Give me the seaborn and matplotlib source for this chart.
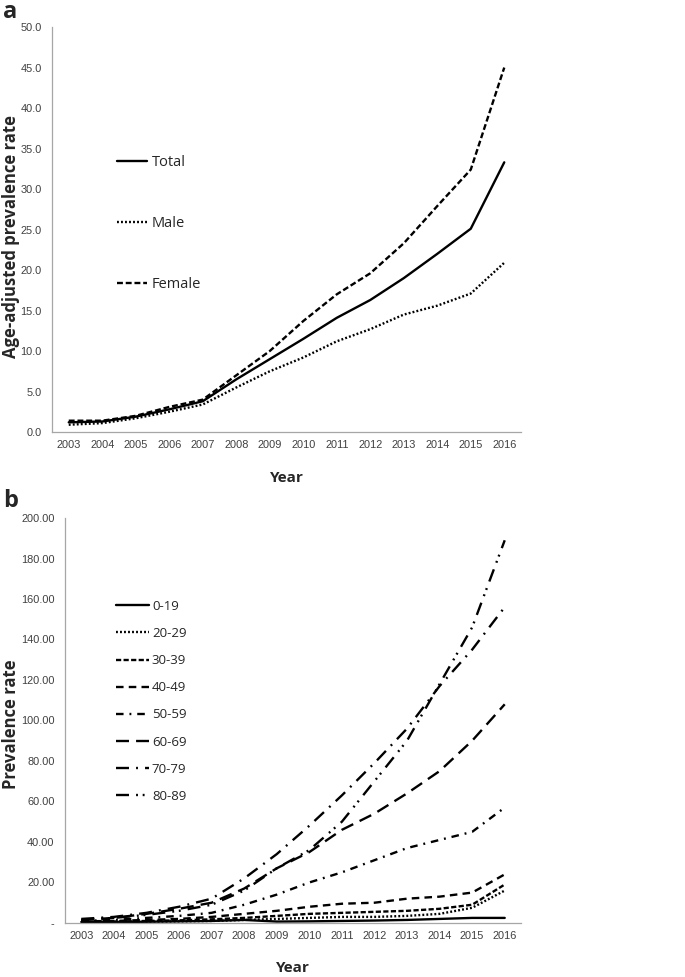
import matplotlib
matplotlib.use("Agg")
import matplotlib.pyplot as plt
from matplotlib.ticker import FixedLocator, FuncFormatter
import seaborn as sns
import pandas as pd
import numpy as np

years = ["2003", "2004", "2005", "2006", "2007", "2008", "2009",
         "2010", "2011", "2012", "2013", "2014", "2015", "2016"]

# Panel a: age-adjusted prevalence rate
total = [1.2, 1.3, 1.9, 2.8, 3.8, 6.5, 9.0, 11.5, 14.1, 16.3, 19.0, 22.0, 25.1, 33.3]
male = [0.9, 1.1, 1.7, 2.5, 3.4, 5.5, 7.5, 9.2, 11.2, 12.7, 14.5, 15.6, 17.1, 20.9]
female = [1.4, 1.4, 2.0, 3.1, 4.0, 7.0, 10.0, 13.7, 17.0, 19.6, 23.3, 27.9, 32.4, 45.0]
sex_labels = ["Total", "Male", "Female"]

# Panel b: prevalence rate by age group
age_labels = ["0-19", "20-29", "30-39", "40-49", "50-59", "60-69", "70-79", "80-89"]
age_0_19 = [0.5, 0.5, 0.6, 0.8, 1.0, 1.5, 0.7, 0.8, 1.0, 1.2, 1.5, 2.0, 2.5, 2.5]
age_20_29 = [0.3, 0.4, 0.6, 0.8, 1.0, 1.5, 2.0, 2.5, 3.0, 3.0, 3.5, 4.5, 7.5, 16.0]
age_30_39 = [0.5, 0.7, 1.0, 1.3, 1.8, 2.5, 3.5, 4.5, 5.0, 5.5, 6.0, 7.0, 9.0, 19.0]
age_40_49 = [0.8, 1.0, 1.5, 2.0, 3.0, 4.5, 6.0, 8.0, 9.5, 10.0, 12.0, 13.0, 15.0, 24.0]
age_50_59 = [1.0, 1.5, 2.5, 3.5, 5.0, 9.0, 14.0, 20.0, 25.0, 31.0, 37.0, 41.0, 45.0, 57.0]
age_60_69 = [1.5, 2.5, 4.5, 7.0, 10.0, 17.0, 27.0, 35.0, 46.0, 54.0, 64.0, 75.0, 90.0, 108.0]
age_70_79 = [2.0, 3.0, 5.0, 8.0, 12.0, 22.0, 34.0, 48.0, 63.0, 79.0, 96.0, 117.0, 135.0, 156.0]
age_80_89 = [1.5, 2.5, 4.0, 6.0, 9.0, 16.0, 27.0, 36.0, 50.0, 70.0, 90.0, 118.0, 146.0, 189.0]

sns.set_style("white")
plt.rcParams["font.family"] = ["Liberation Sans", "DejaVu Sans"]

TICK_FONT = ["Liberation Sans", "DejaVu Sans"]
LEG_FONT = ["Open Sans", "DejaVu Sans"]
BOLD_FONT = ["Open Sans", "DejaVu Sans"]

fig = plt.figure(figsize=(6.85, 9.77), dpi=100)
ax_a = fig.add_axes([0.0759, 0.5578, 0.6847, 0.4145])
ax_b = fig.add_axes([0.0949, 0.0553, 0.6657, 0.4145])

x_idx = list(range(len(years)))

df_a = pd.DataFrame({
    "x": x_idx * 3,
    "value": total + male + female,
    "series": [s for s in sex_labels for _ in years],
})
dashes_a = {"Total": "", "Male": (0.8, 0.9), "Female": (2.5, 1.2)}
sns.lineplot(data=df_a, x="x", y="value", style="series", style_order=sex_labels,
             dashes=dashes_a, color="black", linewidth=1.7, ax=ax_a, sort=False)

age_series = [age_0_19, age_20_29, age_30_39, age_40_49, age_50_59, age_60_69, age_70_79, age_80_89]
df_b = pd.DataFrame({
    "x": x_idx * len(age_labels),
    "value": [v for s in age_series for v in s],
    "series": [lab for lab in age_labels for _ in years],
})
dashes_b = {
    "0-19": "",
    "20-29": (0.8, 0.9),
    "30-39": (2.2, 1.0),
    "40-49": (3.2, 2.2),
    "50-59": (3.2, 2.5, 0.8, 2.5),
    "60-69": (5.5, 3.0),
    "70-79": (5.5, 3.0, 0.8, 3.0),
    "80-89": (5.5, 3.0, 0.8, 2.0, 0.8, 3.0),
}
sns.lineplot(data=df_b, x="x", y="value", style="series", style_order=age_labels,
             dashes=dashes_b, color="black", linewidth=1.7, ax=ax_b, sort=False)

def style_axes(ax, ymax, ystep, fmt):
    ax.set_xlim(-0.5, len(years) - 0.5)
    ax.set_ylim(0, ymax)
    ax.xaxis.set_major_locator(FixedLocator(x_idx))
    ax.set_xticklabels(years)
    ax.xaxis.set_minor_locator(FixedLocator(np.arange(-0.5, len(years), 1.0)))
    ax.tick_params(axis="x", which="major", length=0, pad=6, labelsize=7.9, colors="#404040")
    ax.tick_params(axis="x", which="minor", length=4, width=0.8, color="#a6a6a6", direction="out")
    ax.yaxis.set_major_locator(FixedLocator(np.arange(0, ymax + ystep / 2, ystep)))
    ax.yaxis.set_major_formatter(FuncFormatter(fmt))
    ax.tick_params(axis="y", which="major", length=4, width=0.8, color="#a6a6a6",
                   direction="out", labelsize=7.9, labelcolor="#404040", pad=3.5)
    for lab in ax.get_xticklabels() + ax.get_yticklabels():
        lab.set_fontfamily(TICK_FONT)
    for side in ["top", "right"]:
        ax.spines[side].set_visible(False)
    for side in ["left", "bottom"]:
        ax.spines[side].set_color("#a6a6a6")
        ax.spines[side].set_linewidth(0.9)
    ax.set_xlabel("Year", fontsize=11, fontweight="bold", family=BOLD_FONT)

style_axes(ax_a, 50, 5, lambda v, p: f"{v:.1f}")
style_axes(ax_b, 200, 20, lambda v, p: "-" if v == 0 else f"{v:.2f}")

ax_a.xaxis.set_label_coords(0.5, -0.096)
ax_b.xaxis.set_label_coords(0.5, -0.094)

ax_a.set_ylabel("Age-adjusted prevalence rate", fontsize=12, fontweight="bold",
                family=BOLD_FONT)
ax_b.set_ylabel("Prevalence rate", fontsize=12, fontweight="bold", family=BOLD_FONT)
ax_a.yaxis.set_label_coords(-0.068, 0.483)
ax_b.yaxis.set_label_coords(-0.099, 0.49)

h, l = ax_a.get_legend_handles_labels()
ax_a.legend(h, l, loc="upper left", bbox_to_anchor=(0.111, 0.716), frameon=False,
            handlelength=2.05, handletextpad=0.34, labelspacing=3.16,
            prop={"family": LEG_FONT, "size": 10.5})
h, l = ax_b.get_legend_handles_labels()
ax_b.legend(h, l, loc="upper left", bbox_to_anchor=(0.085, 0.827), frameon=False,
            handlelength=2.5, handletextpad=0.25, labelspacing=1.07,
            prop={"family": LEG_FONT, "size": 9.5})

fig.text(0.004, 0.9815, "a", fontsize=17, fontweight="bold", family=BOLD_FONT, va="baseline")
fig.text(0.004, 0.481, "b", fontsize=17, fontweight="bold", family=BOLD_FONT, va="baseline")

fig.savefig("out.png", dpi=100)
